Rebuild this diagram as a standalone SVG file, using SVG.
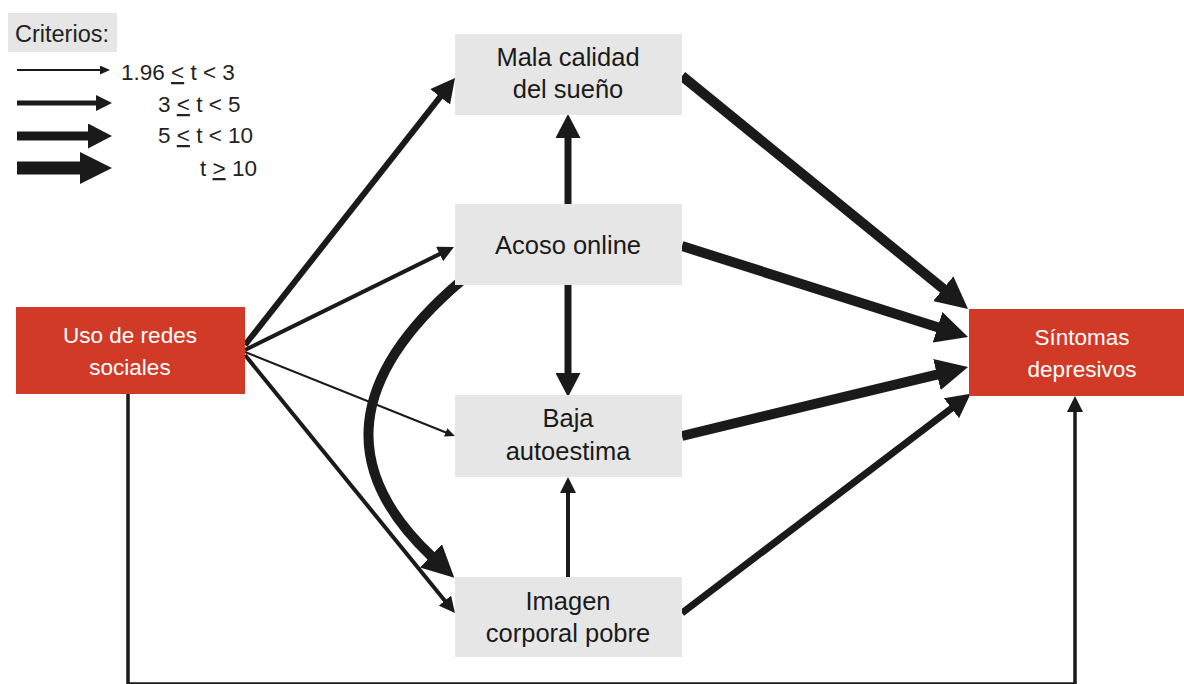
<svg xmlns="http://www.w3.org/2000/svg" width="1184" height="684" viewBox="0 0 1184 684">
<style>
.bg{fill:#ffffff}
.gbox{fill:#e6e6e6}
.rbox{fill:#d23a28}
.t{font-family:"Liberation Sans",Arial,sans-serif;font-size:25.5px;text-anchor:middle;fill:#1a1a1a}
.tw{font-family:"Liberation Sans",Arial,sans-serif;font-size:22.5px;text-anchor:middle;fill:#ffffff}
.lg{font-family:"Liberation Sans",Arial,sans-serif;font-size:22.5px;fill:#222222}
.c{fill:none;stroke:#1a1a1a;stroke-linecap:butt;stroke-linejoin:miter}
.hd{fill:#1a1a1a}
</style>
<defs>
<marker id="hA" viewBox="0 0 10 9" refX="1" refY="4.5" markerWidth="10" markerHeight="9" markerUnits="userSpaceOnUse" orient="auto"><path class="hd" d="M0,0 L10,4.5 L0,9 z"/></marker>
<marker id="hB" viewBox="0 0 16 16" refX="1" refY="8" markerWidth="16" markerHeight="16" markerUnits="userSpaceOnUse" orient="auto"><path class="hd" d="M0,0 L16,8 L0,16 z"/></marker>
<marker id="hC" viewBox="0 0 24 25" refX="1" refY="12.5" markerWidth="24" markerHeight="25" markerUnits="userSpaceOnUse" orient="auto"><path class="hd" d="M0,0 L24,12.5 L0,25 z"/></marker>
<marker id="hD" viewBox="0 0 32 32" refX="1" refY="16" markerWidth="32" markerHeight="32" markerUnits="userSpaceOnUse" orient="auto"><path class="hd" d="M0,0 L32,16 L0,32 z"/></marker>
</defs>
<rect class="bg" x="0" y="0" width="1184" height="684"/>

<g id="legend">
<rect class="gbox" x="8" y="13" width="109" height="39"/>
<text class="lg" x="15" y="42" style="font-size:23.5px">Criterios:</text>
<path class="c" d="M17 70 H101" stroke-width="2" marker-end="url(#hA)"/>
<path class="c" d="M17 103 H97" stroke-width="5" marker-end="url(#hB)"/>
<path class="c" d="M17 136 H89" stroke-width="9" marker-end="url(#hC)"/>
<path class="c" d="M17 168 H81" stroke-width="13" marker-end="url(#hD)"/>
<text class="lg" x="121" y="80">1.96 <tspan text-decoration="underline">&lt;</tspan> t &lt; 3</text>
<text class="lg" x="158" y="112">3 <tspan text-decoration="underline">&lt;</tspan> t &lt; 5</text>
<text class="lg" x="158" y="143">5 <tspan text-decoration="underline">&lt;</tspan> t &lt; 10</text>
<text class="lg" x="200" y="176">t <tspan text-decoration="underline">&gt;</tspan> 10</text>
</g>

<g id="connectors">
<path class="c" d="M245 345 L440.8 96.1" stroke-width="6" marker-end="url(#hC)"/>
<path class="c" d="M245 350 L440.5 253.6" stroke-width="4" marker-end="url(#hB)"/>
<path class="c" d="M245 352 L446.6 432.7" stroke-width="2" marker-end="url(#hA)"/>
<path class="c" d="M245 355 L445.5 601.4" stroke-width="4" marker-end="url(#hB)"/>
<path class="c" d="M461 281 Q292 425 431.7 556.5" stroke-width="10" marker-end="url(#hD)"/>
<path class="c" d="M568 204 V137" stroke-width="7" marker-end="url(#hC)"/>
<path class="c" d="M568 285 V374" stroke-width="7" marker-end="url(#hC)"/>
<path class="c" d="M568 577 V492" stroke-width="4" marker-end="url(#hB)"/>
<path class="c" d="M682 76 L944 289.4" stroke-width="10" marker-end="url(#hD)"/>
<path class="c" d="M682 246 L938.5 327.6" stroke-width="10" marker-end="url(#hD)"/>
<path class="c" d="M682 436 L937.9 374.3" stroke-width="10" marker-end="url(#hD)"/>
<path class="c" d="M682 613 L952.3 407.7" stroke-width="7" marker-end="url(#hC)"/>
<path class="c" d="M128 394 V684 H1075 V411" stroke-width="3.5" marker-end="url(#hB)"/>
</g>

<g id="uso">
<rect class="rbox" x="16" y="307" width="229" height="87"/>
<text class="tw" x="130" y="343">Uso de redes</text>
<text class="tw" x="130" y="375">sociales</text>
</g>
<g id="mala">
<rect class="gbox" x="455" y="34" width="227" height="81"/>
<text class="t" x="568" y="66">Mala calidad</text>
<text class="t" x="568" y="98">del sueño</text>
</g>
<g id="acoso">
<rect class="gbox" x="455" y="204" width="227" height="81"/>
<text class="t" x="568" y="254">Acoso online</text>
</g>
<g id="baja">
<rect class="gbox" x="455" y="395" width="227" height="82"/>
<text class="t" x="568" y="427">Baja</text>
<text class="t" x="568" y="460">autoestima</text>
</g>
<g id="imagen">
<rect class="gbox" x="455" y="577" width="227" height="80"/>
<text class="t" x="568" y="610">Imagen</text>
<text class="t" x="568" y="642">corporal pobre</text>
</g>
<g id="sintomas">
<rect class="rbox" x="969" y="309" width="215" height="87"/>
<text class="tw" x="1082" y="345">Síntomas</text>
<text class="tw" x="1082" y="377">depresivos</text>
</g>
</svg>
